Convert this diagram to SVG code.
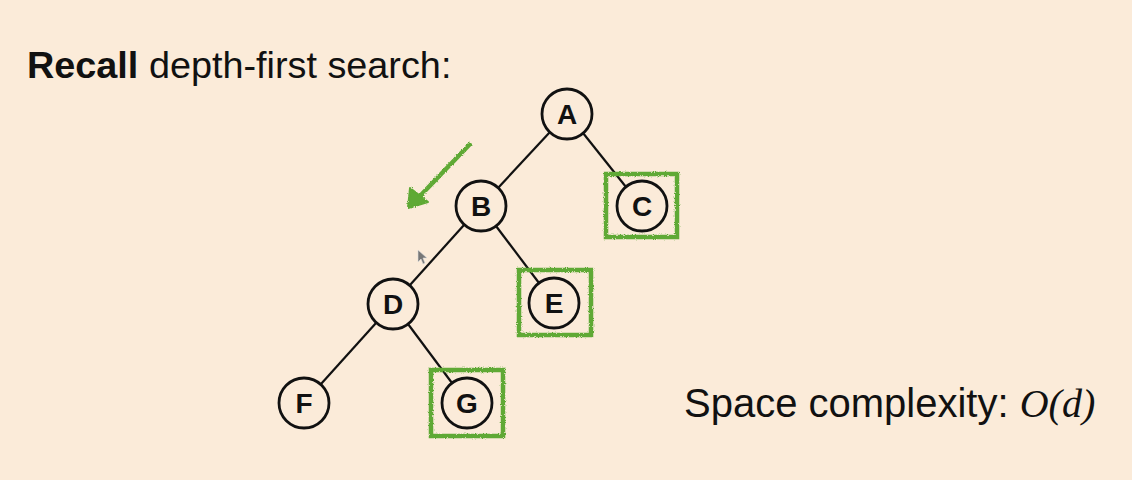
<svg xmlns="http://www.w3.org/2000/svg" width="1132" height="480" viewBox="0 0 1132 480">
  <defs>
    <style>
      .node circle { fill: none; stroke: #111; stroke-width: 2.8; }
      .node text { font-family: "Liberation Sans", Arial, sans-serif; font-weight: bold; font-size: 28px; fill: #111; text-anchor: middle; }
      .edge { stroke: #111; stroke-width: 2.2; fill: none; }
      .mark { fill: none; stroke: #5EA934; stroke-width: 4.5; filter: url(#rough); }
    </style>
    <filter id="rough" x="-10%" y="-10%" width="120%" height="120%">
      <feTurbulence type="fractalNoise" baseFrequency="0.9" numOctaves="2" seed="3" result="n"/>
      <feDisplacementMap in="SourceGraphic" in2="n" scale="3" xChannelSelector="R" yChannelSelector="G"/>
    </filter>
  </defs>
  <rect width="1132" height="480" fill="#FBEBD9"/>

  <text x="27" y="78" font-family="'Liberation Sans', Arial, sans-serif" font-size="37.8" fill="#111"><tspan font-weight="bold">Recall</tspan> depth-first search:</text>

  <text x="684" y="417" font-family="'Liberation Sans', Arial, sans-serif" font-size="40" fill="#111">Space complexity: <tspan font-family="'Liberation Serif', 'Times New Roman', serif" font-style="italic">O(d)</tspan></text>

  <g id="connectors">
    <line class="edge" x1="550" y1="132" x2="498" y2="188"/>
    <line class="edge" x1="583" y1="133" x2="626" y2="187"/>
    <line class="edge" x1="464" y1="225" x2="410" y2="285"/>
    <line class="edge" x1="496" y1="226" x2="539" y2="283"/>
    <line class="edge" x1="376" y1="323" x2="321" y2="384"/>
    <line class="edge" x1="408" y1="324" x2="452" y2="383"/>
  </g>

  <g id="arrow">
    <line class="mark" x1="471" y1="143" x2="420" y2="196" stroke-width="3.2"/>
    <polygon points="410,188 428,202 408,208" fill="#5EA934" stroke="#5EA934" stroke-width="2" stroke-linejoin="round" filter="url(#rough)"/>
  </g>

  <g id="cursor">
    <polygon points="418,250 418,262 421,259 423,264 425,263 423,258 427,258" fill="#777" stroke="#ddd" stroke-width="0.6"/>
  </g>

  <g id="node-A" class="node"><circle cx="567" cy="114" r="25"/><text x="567" y="124">A</text></g>
  <g id="node-B" class="node"><circle cx="481" cy="206" r="25"/><text x="481" y="216">B</text></g>
  <g id="node-C" class="node"><circle cx="642" cy="206" r="25"/><text x="642" y="216">C</text></g>
  <g id="node-D" class="node"><circle cx="393" cy="304" r="25"/><text x="393" y="314">D</text></g>
  <g id="node-E" class="node"><circle cx="554" cy="303" r="25"/><text x="554" y="313">E</text></g>
  <g id="node-F" class="node"><circle cx="304" cy="403" r="25"/><text x="304" y="413">F</text></g>
  <g id="node-G" class="node"><circle cx="467" cy="403" r="25"/><text x="467" y="413">G</text></g>

  <g id="marks">
    <rect class="mark" x="606" y="174" width="71" height="63"/>
    <rect class="mark" x="519" y="270" width="72" height="65"/>
    <rect class="mark" x="431" y="370" width="72" height="66"/>
  </g>
</svg>
